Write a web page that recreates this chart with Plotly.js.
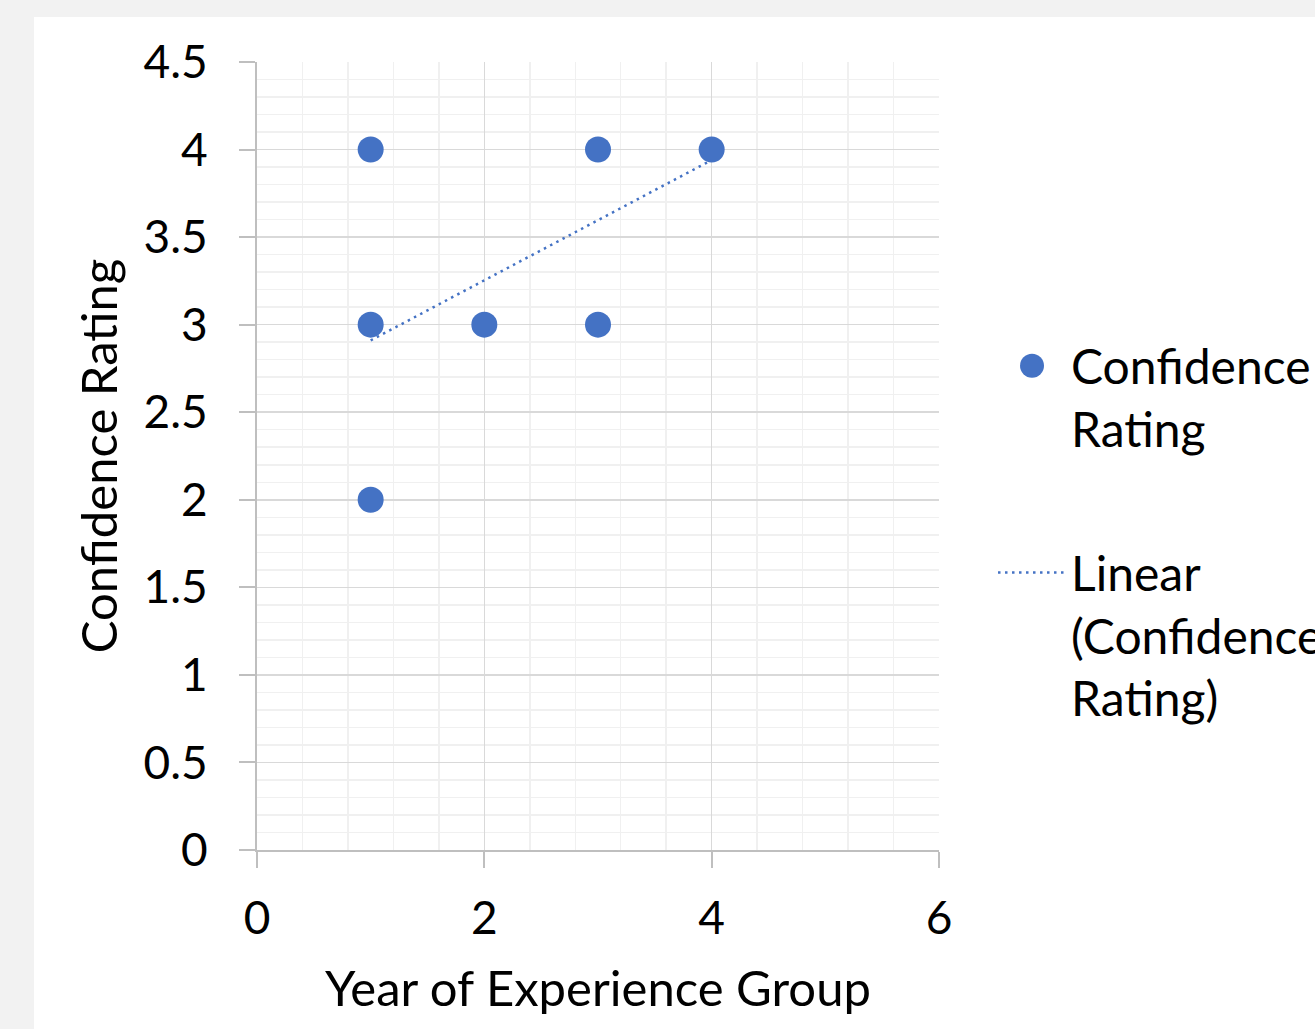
<!DOCTYPE html>
<html>
<head>
<meta charset="utf-8">
<script src="https://cdn.plot.ly/plotly-3.0.1.min.js"></script>
<style>
html,body{margin:0;padding:0;background:#f2f2f2;overflow:hidden;width:1315px;height:1029px;}
#chart{position:absolute;left:34px;top:17px;width:1281px;height:1012px;background:#fff;}
</style>
</head>
<body>
<div id="chart"></div>
<script>
// Data
const experienceGroup = [1, 1, 1, 2, 3, 3, 4];
const confidenceRating = [4, 3, 2, 3, 4, 3, 4];
const trendX = [1, 4];
const trendY = [2.91, 3.94];
const seriesName = 'Confidence<br>Rating';
const trendName = 'Linear<br>(Confidence<br>Rating)';
const xTitle = 'Year of Experience Group';
const yTitle = 'Confidence Rating';

const blue = '#4472C4';
const FONT = 'Lato, "Noto Sans", sans-serif';

const traces = [
  {
    x: trendX, y: trendY, type: 'scatter', mode: 'lines', name: trendName,
    line: {color: blue, width: 2.5, dash: '2.5px,4.5px'},
    legendrank: 2, legendgroup: 'b', hoverinfo: 'skip'
  },
  {
    x: experienceGroup, y: confidenceRating, type: 'scatter', mode: 'markers', name: seriesName,
    marker: {color: blue, size: 26, line: {width: 0}},
    legendrank: 1, legendgroup: 'a'
  }
];

const axisCommon = {
  showline: true, linecolor: '#bfbfbf', linewidth: 2,
  showgrid: true, gridcolor: '#d9d9d9', gridwidth: 1.5,
  zeroline: false,
  ticks: 'outside', ticklen: 16, tickcolor: '#bfbfbf', tickwidth: 2,
  tickfont: {family: FONT, size: 46, color: '#000'},
  automargin: false, fixedrange: true
};

const layout = {
  width: 1281, height: 1012,
  paper_bgcolor: '#ffffff', plot_bgcolor: '#ffffff',
  margin: {l: 223, r: 376, t: 45, b: 179, pad: 0, autoexpand: false},
  font: {family: FONT, color: '#000'},
  showlegend: true,
  legend: {
    x: 1.0792, y: 0.6624, xanchor: 'left', yanchor: 'top', valign: 'top',
    font: {family: FONT, size: 48, color: '#000'},
    itemwidth: 68, tracegroupgap: 79, traceorder: 'grouped',
    bgcolor: 'rgba(0,0,0,0)', borderwidth: 0
  },
  xaxis: Object.assign({}, axisCommon, {
    range: [0, 6], tick0: 0, dtick: 2,
    minor: {dtick: 0.4, showgrid: true, gridcolor: '#f0f0f0', gridwidth: 1.5, ticks: ''},
    ticklabelstandoff: 11,
    title: {text: xTitle, font: {family: FONT, size: 49, color: '#000'}, standoff: 28}
  }),
  yaxis: Object.assign({}, axisCommon, {
    range: [0, 4.5], tick0: 0, dtick: 0.5,
    minor: {dtick: 0.1, showgrid: true, gridcolor: '#f0f0f0', gridwidth: 1.5, ticks: ''},
    ticklabelstandoff: 22,
    title: {text: yTitle, font: {family: FONT, size: 49, color: '#000'}, standoff: 10}
  })
};

Plotly.newPlot('chart', traces, layout, {displayModeBar: false, staticPlot: true}).then(function (gd) {
  // Plotly caps legend marker size; enlarge the legend symbol to match the plotted marker
  gd.querySelectorAll('.legend path.scatterpts').forEach(function (p) {
    p.setAttribute('d', 'M12,0A12,12 0 1,1 0,-12A12,12 0 0,1 12,0Z');
  });
});
</script>
</body>
</html>
